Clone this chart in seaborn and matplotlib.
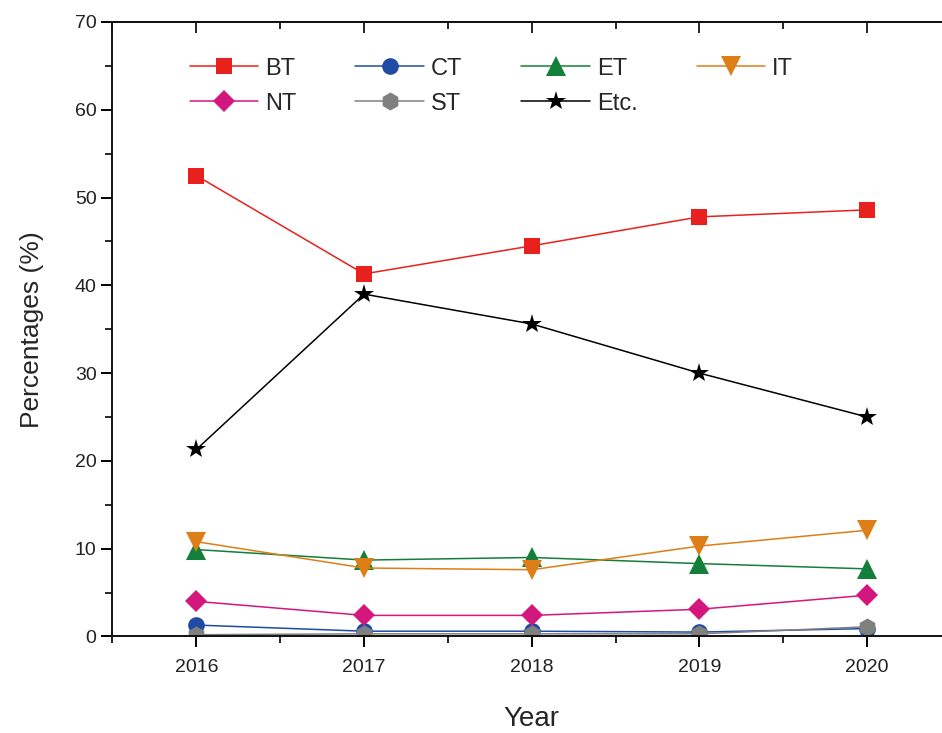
import numpy as np
import pandas as pd
import matplotlib
matplotlib.use("Agg")
import matplotlib.pyplot as plt
from matplotlib.ticker import MultipleLocator
import seaborn as sns

# values (percentages)
years = [2016, 2017, 2018, 2019, 2020]
bt = [52.5, 41.3, 44.5, 47.8, 48.6]
ct = [1.3, 0.6, 0.6, 0.5, 0.9]
et = [9.9, 8.7, 9.0, 8.3, 7.7]
it = [10.8, 7.8, 7.6, 10.3, 12.1]
nt = [4.0, 2.4, 2.4, 3.1, 4.7]
st = [0.2, 0.3, 0.3, 0.3, 1.1]
etc = [21.3, 39.0, 35.6, 30.0, 25.0]

labels = ["BT", "CT", "ET", "IT", "NT", "ST", "Etc."]
series = [bt, ct, et, it, nt, st, etc]
colors = ["#E8201E", "#1F4BA5", "#137F3A", "#DD7F16", "#D4177F", "#808080", "#000000"]
markers = ["s", "o", "^", "v", "D", "h", "*"]
msizes = [12, 12, 14, 14, 11, 13, 15]


def main():
    sns.set_theme(style="ticks")
    plt.rcParams["font.family"] = ["Liberation Sans", "DejaVu Sans"]

    fig = plt.figure(figsize=(9.42, 7.33), dpi=100)
    ax = fig.add_axes([0.1194, 0.1317, 0.8902, 0.8383])

    for lab, vals, col, mk, ms in zip(labels, series, colors, markers, msizes):
        df = pd.DataFrame({"Year": years, "Value": vals})
        sns.lineplot(data=df, x="Year", y="Value", ax=ax, color=col, marker=mk,
                     markersize=ms, markeredgewidth=0, linewidth=1.1, label=lab)

    ax.set_xlim(2015.5, 2020.5)
    ax.set_ylim(0, 70)
    ax.set_xticks(years)
    ax.xaxis.set_minor_locator(MultipleLocator(0.5))
    ax.yaxis.set_major_locator(MultipleLocator(10))
    ax.yaxis.set_minor_locator(MultipleLocator(5))
    ax.tick_params(axis="both", which="major", length=8, width=1.4, labelsize=14,
                   colors="#000000", labelcolor="#222222")
    ax.tick_params(axis="both", which="minor", length=5, width=1.4)
    ax.tick_params(axis="x", pad=8)

    for s in ax.spines.values():
        s.set_linewidth(1.4)
        s.set_color("#111111")

    # inward ticks along the top frame
    top = ax.secondary_xaxis("top")
    top.set_xticks(years)
    top.xaxis.set_minor_locator(MultipleLocator(0.5))
    top.tick_params(which="major", direction="in", length=8, width=1.4, labeltop=False)
    top.tick_params(which="minor", direction="in", length=5, width=1.4)
    top.set_xticklabels([])

    ax.set_xlabel("Year", fontsize=20, labelpad=22)
    ax.set_ylabel("Percentages (%)", fontsize=19, labelpad=22)

    # legend filled row by row: BT CT ET IT / NT ST Etc.
    handles, labs = ax.get_legend_handles_labels()
    order = [0, 4, 1, 5, 2, 6, 3]
    ax.legend([handles[i] for i in order], [labs[i] for i in order],
              loc="upper left", bbox_to_anchor=(0.092, 0.942), ncol=4, frameon=False,
              fontsize=17, handlelength=2.9, handletextpad=0.3, columnspacing=2.5,
              labelspacing=0.55, borderaxespad=0, borderpad=0)

    fig.savefig("out.png", dpi=100)
    plt.close(fig)


if __name__ == "__main__":
    main()
